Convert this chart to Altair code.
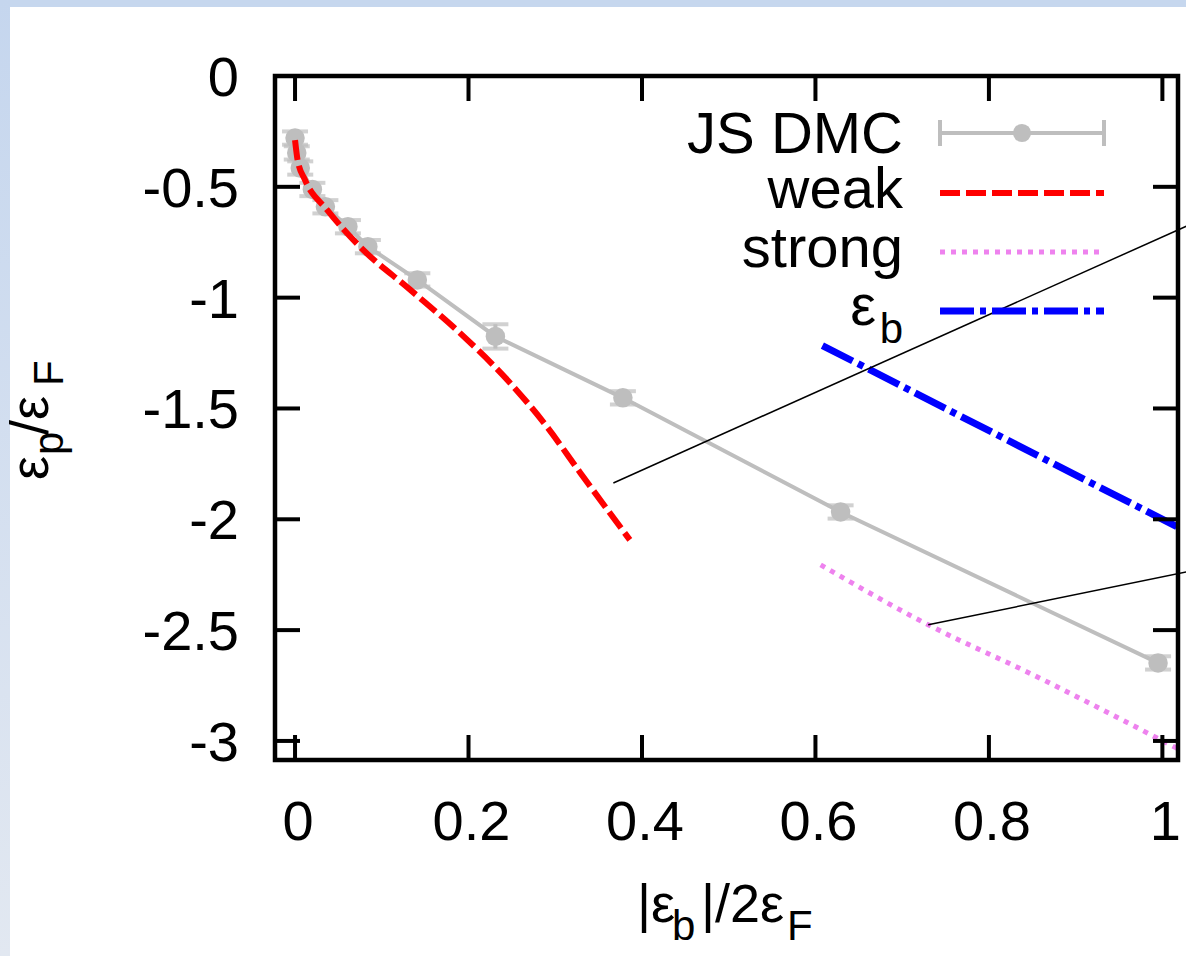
import altair as alt
import pandas as pd

# ---------------- data ----------------
dmc_x = [0.0, 0.002, 0.006, 0.02, 0.035, 0.061, 0.084, 0.141, 0.231, 0.378, 0.629, 0.995]
dmc_y = [-0.28, -0.347, -0.415, -0.512, -0.59, -0.68, -0.77, -0.92, -1.175, -1.452, -1.967, -2.648]
dmc_err = [0.03, 0.03, 0.03, 0.03, 0.03, 0.03, 0.03, 0.03, 0.055, 0.03, 0.03, 0.03]

weak_x = [0.0, 0.003, 0.0115, 0.037, 0.075, 0.133, 0.19, 0.248, 0.29, 0.329, 0.386]
weak_y = [-0.289, -0.38, -0.469, -0.604, -0.771, -0.965, -1.159, -1.385, -1.58, -1.791, -2.093]

strong_x = [0.606, 0.73, 0.85, 1.02]
strong_y = [-2.206, -2.476, -2.70, -3.04]

eb_x = [0.608, 1.02]
eb_y = [-1.216, -2.04]

ann1_x = [0.367, 1.028]
ann1_y = [-1.836, -0.677]
ann2_x = [0.730, 1.028]
ann2_y = [-2.476, -2.237]

x_ticks = [0, 0.2, 0.4, 0.6, 0.8, 1]
x_tick_labels = ["0", "0.2", "0.4", "0.6", "0.8", "1"]
y_ticks = [0, -0.5, -1, -1.5, -2, -2.5, -3]
y_tick_labels = ["0", "-0.5", "-1", "-1.5", "-2", "-2.5", "-3"]

legend_labels = ["JS DMC", "weak", "strong", "ε", "b"]

# ---------------- styling ----------------
W, H = 903, 684
XD = [-0.0231, 1.018]
YD = [-3.086, 0]
FONT = "Liberation Sans"
GRAY = "#bebebe"

one = pd.DataFrame({"k": [0]})

dmc = pd.DataFrame({"x": dmc_x, "y": dmc_y, "err": dmc_err})
dmc["lo"] = dmc["y"] - dmc["err"]
dmc["hi"] = dmc["y"] + dmc["err"]
weak = pd.DataFrame({"x": weak_x, "y": weak_y})
strong = pd.DataFrame({"x": strong_x, "y": strong_y})
eb = pd.DataFrame({"x": eb_x, "y": eb_y})
ann1 = pd.DataFrame({"x": ann1_x, "y": ann1_y})
ann2 = pd.DataFrame({"x": ann2_x, "y": ann2_y})
xt = pd.DataFrame({"v": x_ticks, "lab": x_tick_labels})
yt = pd.DataFrame({"v": y_ticks, "lab": y_tick_labels})

xscale = alt.Scale(domain=XD, nice=False, zero=False)
yscale = alt.Scale(domain=YD, nice=False, zero=False)


def X(field="x"):
    return alt.X(field, type="quantitative", scale=xscale, axis=None)


def Y(field="y"):
    return alt.Y(field, type="quantitative", scale=yscale, axis=None)


layers = []

# background: light-blue slide border (top band and left band)
grad = alt.Gradient(gradient="linear",
                    stops=[alt.GradientStop(offset=0, color="#c5d6ee"),
                           alt.GradientStop(offset=1, color="#e2e8f1")],
                    x1=0, x2=0, y1=0, y2=1)
layers.append(alt.Chart(one).mark_rect(color="#c6d7ee", clip=False).encode(
    x=alt.value(-275), x2=alt.value(911), y=alt.value(-76), y2=alt.value(-69)))
layers.append(alt.Chart(one).mark_rect(color=grad, clip=False).encode(
    x=alt.value(-275), x2=alt.value(-265), y=alt.value(-76), y2=alt.value(880)))

# JS DMC
layers.append(alt.Chart(dmc).mark_line(color=GRAY, strokeWidth=4, clip=True).encode(
    x=X("x"), y=Y("y")))
layers.append(alt.Chart(dmc).mark_rule(color=GRAY, strokeWidth=4, clip=True).encode(
    x=X("x"), y=Y("lo"), y2="hi"))
layers.append(alt.Chart(dmc).mark_tick(color=GRAY, thickness=4, size=26, orient="horizontal", clip=True).encode(
    x=X("x"), y=Y("lo")))
layers.append(alt.Chart(dmc).mark_tick(color=GRAY, thickness=4, size=26, orient="horizontal", clip=True).encode(
    x=X("x"), y=Y("hi")))
layers.append(alt.Chart(dmc).mark_point(filled=True, shape="circle", size=380, color=GRAY, opacity=1, clip=True).encode(
    x=X("x"), y=Y("y")))

# weak (red dashed)
layers.append(alt.Chart(weak).mark_line(color="#ff0000", strokeWidth=6, strokeDash=[20, 6],
                                        interpolate="monotone", clip=True).encode(x=X("x"), y=Y("y")))
# strong (violet dotted)
layers.append(alt.Chart(strong).mark_line(color="#ee82ee", strokeWidth=5, strokeDash=[5, 6],
                                          interpolate="monotone", clip=True).encode(x=X("x"), y=Y("y")))
# eps_b (blue dash-dot)
layers.append(alt.Chart(eb).mark_line(color="#0000ff", strokeWidth=7, strokeDash=[34, 6, 6, 6],
                                      clip=True).encode(x=X("x"), y=Y("y")))

# frame and inward ticks
layers.append(alt.Chart(one).mark_rect(filled=False, stroke="black", strokeWidth=4.5, clip=False).encode(
    x=alt.value(0), x2=alt.value(W), y=alt.value(0), y2=alt.value(H)))
layers.append(alt.Chart(xt).mark_rule(color="black", strokeWidth=4).encode(
    x=X("v"), y=alt.value(H - 25), y2=alt.value(H)))
layers.append(alt.Chart(xt).mark_rule(color="black", strokeWidth=4).encode(
    x=X("v"), y=alt.value(0), y2=alt.value(25)))
layers.append(alt.Chart(yt).mark_rule(color="black", strokeWidth=4).encode(
    y=Y("v"), x=alt.value(0), x2=alt.value(25)))
layers.append(alt.Chart(yt).mark_rule(color="black", strokeWidth=4).encode(
    y=Y("v"), x=alt.value(W - 25), x2=alt.value(W)))

# tick labels
layers.append(alt.Chart(xt).mark_text(font=FONT, fontSize=56, align="center", baseline="alphabetic",
                                      color="black", dx=3, clip=False).encode(
    x=X("v"), y=alt.value(H + 80), text="lab:N"))
layers.append(alt.Chart(yt).mark_text(font=FONT, fontSize=56, align="right", baseline="alphabetic",
                                      color="black", dy=20, clip=False).encode(
    y=Y("v"), x=alt.value(-36), text="lab:N"))

# annotation pointer lines
layers.append(alt.Chart(ann1).mark_line(color="black", strokeWidth=1.5, clip=False).encode(x=X("x"), y=Y("y")))
layers.append(alt.Chart(ann2).mark_line(color="black", strokeWidth=1.5, clip=False).encode(x=X("x"), y=Y("y")))

# legend (gnuplot style: label left, sample right)
LX_T, LX0, LX1 = 628, 665, 829
rows = [57, 117, 176, 235]


def txt(s, x, y, size=56, align="right", angle=0):
    return alt.Chart(one).mark_text(text=s, font=FONT, fontSize=size, align=align,
                                    baseline="alphabetic", color="black", angle=angle,
                                    clip=False).encode(x=alt.value(x), y=alt.value(y))


layers.append(txt(legend_labels[0], LX_T, rows[0] + 20, size=58))
layers.append(txt(legend_labels[1], LX_T, rows[1] + 15, size=58))
layers.append(txt(legend_labels[2], LX_T, rows[2] + 15, size=58))
layers.append(txt(legend_labels[3], 601, rows[3] + 14, size=58))
layers.append(txt(legend_labels[4], LX_T, rows[3] + 32, size=42))

layers.append(alt.Chart(one).mark_rule(color=GRAY, strokeWidth=4).encode(
    x=alt.value(LX0), x2=alt.value(LX1), y=alt.value(rows[0])))
layers.append(alt.Chart(one).mark_rule(color=GRAY, strokeWidth=4).encode(
    x=alt.value(LX0), y=alt.value(rows[0] - 13), y2=alt.value(rows[0] + 13)))
layers.append(alt.Chart(one).mark_rule(color=GRAY, strokeWidth=4).encode(
    x=alt.value(LX1), y=alt.value(rows[0] - 13), y2=alt.value(rows[0] + 13)))
layers.append(alt.Chart(one).mark_point(filled=True, shape="circle", size=330, color=GRAY, opacity=1).encode(
    x=alt.value((LX0 + LX1) / 2), y=alt.value(rows[0])))
layers.append(alt.Chart(one).mark_rule(color="#ff0000", strokeWidth=6, strokeDash=[20, 6]).encode(
    x=alt.value(LX0), x2=alt.value(LX1), y=alt.value(rows[1])))
layers.append(alt.Chart(one).mark_rule(color="#ee82ee", strokeWidth=5, strokeDash=[5, 6]).encode(
    x=alt.value(LX0), x2=alt.value(LX1), y=alt.value(rows[2])))
layers.append(alt.Chart(one).mark_rule(color="#0000ff", strokeWidth=7, strokeDash=[34, 6, 6, 6]).encode(
    x=alt.value(LX0), x2=alt.value(LX1), y=alt.value(rows[3])))

# axis titles with subscripts
# x: |eps_b|/2eps_F
XB, XS = 846, 864
layers.append(txt("|ε", 362, XB, size=54, align="left"))
layers.append(txt("b", 397, XS, size=42, align="left"))
layers.append(txt("|/2ε", 426, XB, size=54, align="left"))
layers.append(txt("F", 512, XS, size=42, align="left"))
# y: eps_p/eps_F (rotated, reading upward)
YB, YS = -227, -212
layers.append(txt("ε", YB, 404, size=54, align="left", angle=270))
layers.append(txt("p", YS, 379, size=42, align="left", angle=270))
layers.append(txt("/ε", YB, 359, size=54, align="left", angle=270))
layers.append(txt("F", YS, 310, size=42, align="left", angle=270))

chart = alt.layer(*layers).properties(
    width=W, height=H,
    autosize=alt.AutoSizeParams(type="none"),
    padding={"left": 275, "top": 76, "right": 8, "bottom": 196},
).configure_view(strokeWidth=0).configure(background="white")

chart.save("out.html", embed_options={"renderer": "svg", "actions": False})
